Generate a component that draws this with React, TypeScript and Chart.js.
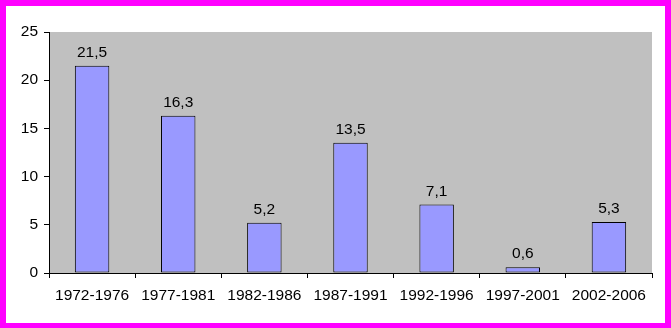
import React, { useEffect, useRef } from "react";
import { Chart, registerables } from "chart.js";

Chart.register(...registerables);

const categories = ["1972-1976", "1977-1981", "1982-1986", "1987-1991", "1992-1996", "1997-2001", "2002-2006"];
const values = [21.5, 16.3, 5.2, 13.5, 7.1, 0.6, 5.3];
const yTicks = [0, 5, 10, 15, 20, 25];

const FONT = "Arial, 'Liberation Sans', sans-serif";
const FONT_SIZE = 15.5;

const framePlugin = {
  id: "frame",
  beforeDraw(chart: any) {
    const { ctx, width, height, chartArea } = chart;
    ctx.save();
    ctx.fillStyle = "#FFFFFF";
    ctx.fillRect(0, 0, width, height);
    ctx.fillStyle = "#FF00FF";
    ctx.fillRect(0, 0, width, 6);
    ctx.fillRect(0, 0, 6, height);
    ctx.fillRect(width - 6, 0, 6, height);
    ctx.fillRect(0, height - 5, width, 5);
    ctx.fillStyle = "#C0C0C0";
    ctx.fillRect(chartArea.left, chartArea.top, chartArea.right - chartArea.left, chartArea.bottom - chartArea.top);
    ctx.restore();
  },
};

const labelPlugin = {
  id: "valueLabels",
  afterDatasetsDraw(chart: any) {
    const { ctx } = chart;
    const meta = chart.getDatasetMeta(0);
    ctx.save();
    ctx.font = `${FONT_SIZE}px ${FONT}`;
    ctx.fillStyle = "#000000";
    ctx.textAlign = "center";
    ctx.textBaseline = "alphabetic";
    meta.data.forEach((bar: any, i: number) => {
      const txt = String(values[i]).replace(".", ",");
      ctx.fillText(txt, bar.x, bar.y - 9);
    });
    ctx.restore();
  },
};

export default function App() {
  const ref = useRef<HTMLCanvasElement>(null);
  useEffect(() => {
    document.body.style.margin = "0";
    const chart = new Chart(ref.current!, {
      type: "bar",
      data: {
        labels: categories,
        datasets: [
          {
            data: values,
            backgroundColor: "#9999FF",
            borderColor: "#000000",
            borderWidth: 1,
            borderSkipped: false,
            categoryPercentage: 1,
            barPercentage: 0.4,
          },
        ],
      },
      options: {
        responsive: false,
        animation: false,
        devicePixelRatio: 1,
        layout: { padding: { left: 0, top: 32, right: 19, bottom: 0 } },
        plugins: { legend: { display: false }, tooltip: { enabled: false } },
        scales: {
          x: {
            grid: { display: true, offset: true, drawOnChartArea: false, drawTicks: true, tickLength: 5, color: "#000000" },
            border: { display: true, color: "#000000", width: 1 },
            ticks: { color: "#000000", font: { family: FONT, size: FONT_SIZE }, padding: 8, maxRotation: 0, autoSkip: false },
            afterFit(scale: any) {
              scale.height = 55;
            },
          },
          y: {
            min: 0,
            max: 25,
            grid: { display: true, drawOnChartArea: false, drawTicks: true, tickLength: 5, color: "#000000" },
            border: { display: true, color: "#000000", width: 1 },
            afterBuildTicks(scale: any) {
              scale.ticks = yTicks.map((v) => ({ value: v }));
            },
            ticks: { color: "#000000", font: { family: FONT, size: FONT_SIZE }, padding: 6 },
            afterFit(scale: any) {
              scale.width = 49;
            },
          },
        },
      },
      plugins: [framePlugin, labelPlugin],
    });
    return () => chart.destroy();
  }, []);
  return (
    <div style={{ position: "absolute", left: 0, top: 0, width: 671, height: 328 }}>
      <canvas ref={ref} width={671} height={328} style={{ display: "block", width: 671, height: 328 }} />
    </div>
  );
}
